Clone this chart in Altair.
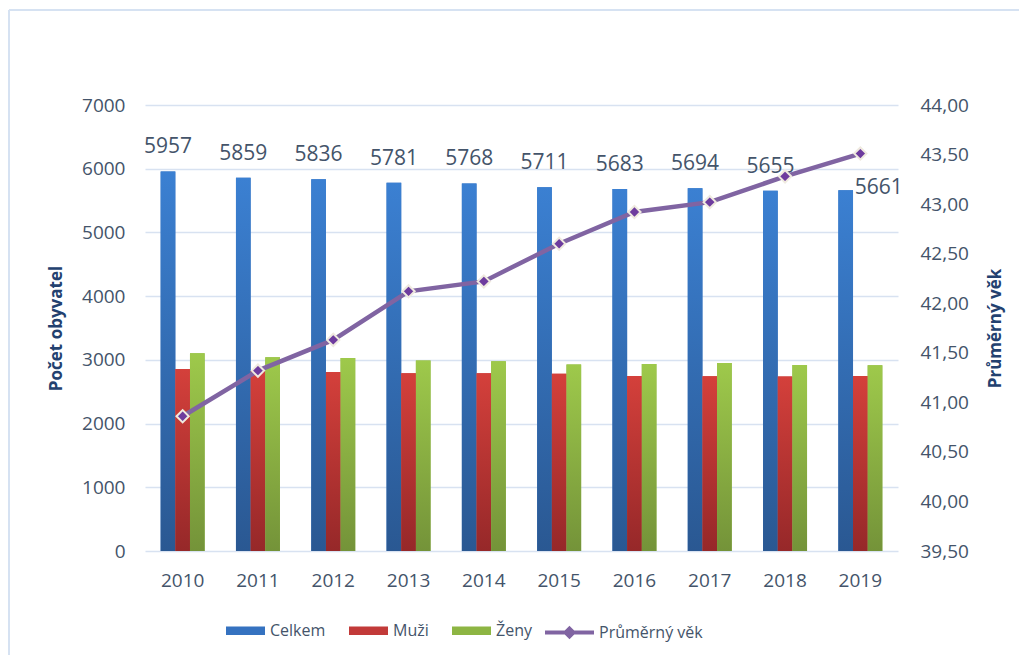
import altair as alt
import pandas as pd

roky = ["2010", "2011", "2012", "2013", "2014", "2015", "2016", "2017", "2018", "2019"]
celkem = [5957, 5859, 5836, 5781, 5768, 5711, 5683, 5694, 5655, 5661]
muzi = [2855, 2820, 2808, 2790, 2788, 2782, 2748, 2743, 2737, 2747]
zeny = [3102, 3039, 3028, 2991, 2980, 2929, 2935, 2951, 2918, 2914]
prumerny_vek = [40.86, 41.32, 41.63, 42.12, 42.22, 42.60, 42.92, 43.02, 43.28, 43.51]
serie = ["Celkem", "Muži", "Ženy"]
vek_serie = "Průměrný věk"

bars_df = pd.DataFrame({
    "rok": roky * 3,
    "serie": [s for s in serie for _ in roky],
    "pocet": celkem + muzi + zeny,
})
line_df = pd.DataFrame({"rok": roky, "vek": prumerny_vek, "serie": [vek_serie] * len(roky)})

TXT = "#44546A"
TITLE_C = "#23416F"
GRID = "#D8E2F1"
PURPLE = "#8064A2"

flat = ["#3572C0", "#C23A39", "#8DB543"]
grads = {
    "Celkem": ("#3B80D2", "#2A5892"),
    "Muži": ("#D4403B", "#962829"),
    "Ženy": ("#9EC94B", "#749339"),
}

x_enc = alt.X("rok:N", sort=roky,
              scale=alt.Scale(paddingInner=0.416, paddingOuter=0.208),
              axis=alt.Axis(title=None, labelAngle=0, ticks=False, domain=False,
                            labelPadding=20, labelFontSize=19, labelColor=TXT))
xo_enc = alt.XOffset("serie:N", scale=alt.Scale(domain=serie, paddingInner=0, paddingOuter=0))
y_bar = alt.Y("pocet:Q", scale=alt.Scale(domain=[0, 7000]),
              axis=alt.Axis(title="Počet obyvatel", values=list(range(0, 7001, 1000)), format="d",
                            grid=True, gridColor=GRID, gridWidth=1.6, ticks=False, domain=False,
                            labelPadding=20, labelFontSize=19, labelColor=TXT,
                            titleX=-89, titleY=223, titleAngle=270, titleAlign="center",
                            titleBaseline="middle", titleFontSize=17, titleFontWeight="bold",
                            titleColor=TITLE_C))

bars = alt.Chart(bars_df).mark_bar().encode(
    x=x_enc, xOffset=xo_enc, y=y_bar,
    color=alt.Color("serie:N", scale=alt.Scale(domain=serie, range=flat),
                    legend=alt.Legend(orient="none", legendX=81, legendY=506, direction="horizontal",
                                      title=None, symbolType="M-1,-0.22H1V0.22H-1Z", symbolSize=1521,
                                      symbolStrokeWidth=0, labelFontSize=16, labelColor=TXT,
                                      labelOffset=5, columnPadding=23, padding=0)),
)

overlays = []
for s in serie:
    top, bot = grads[s]
    overlays.append(
        alt.Chart(bars_df).transform_filter(alt.datum.serie == s).mark_bar(
            fill=alt.Gradient(gradient="linear",
                              stops=[alt.GradientStop(color=top, offset=0),
                                     alt.GradientStop(color=bot, offset=1)],
                              x1=0, x2=0, y1=0, y2=1)
        ).encode(x=x_enc, xOffset=xo_enc, y=y_bar)
    )

labels = alt.Chart(bars_df).transform_filter(
    (alt.datum.serie == "Celkem") & (alt.datum.rok != "2019")
).mark_text(dy=-24, fontSize=21, color=TXT, baseline="middle", align="center").encode(
    x=x_enc, xOffset=xo_enc, y=y_bar, text="pocet:Q")

label_last = alt.Chart(bars_df).transform_filter(
    (alt.datum.serie == "Celkem") & (alt.datum.rok == "2019")
).mark_text(dx=9, dy=-2, fontSize=21, color=TXT, baseline="middle", align="left").encode(
    x=x_enc, xOffset=xo_enc, y=y_bar, text="pocet:Q")

bar_group = alt.layer(bars, *overlays, labels, label_last)

y_vek = alt.Y("vek:Q", scale=alt.Scale(domain=[39.5, 44]),
              axis=alt.Axis(orient="right", title="Průměrný věk",
                            values=[39.5, 40, 40.5, 41, 41.5, 42, 42.5, 43, 43.5, 44],
                            labelExpr="replace(format(datum.value, '.2f'), '.', ',')",
                            grid=False, ticks=False, domain=False, labelPadding=22,
                            labelFontSize=19, labelColor=TXT,
                            titleX=97, titleY=223, titleAngle=270, titleAlign="center",
                            titleBaseline="middle", titleFontSize=17, titleFontWeight="bold",
                            titleColor=TITLE_C))

line = alt.Chart(line_df).mark_line(strokeWidth=4.5).encode(
    x=x_enc, y=y_vek,
    stroke=alt.Stroke("serie:N", scale=alt.Scale(domain=[vek_serie], range=[PURPLE]),
                      legend=alt.Legend(orient="none", legendX=398, legendY=501, title=None,
                                        symbolType="M-1,0H1M0,-0.16L0.16,0L0,0.16L-0.16,0Z",
                                        symbolSize=2401, symbolStrokeWidth=4,
                                        symbolFillColor="#6E3C9E", labelFontSize=16,
                                        labelColor=TXT, labelOffset=3, padding=0)),
)
points = alt.Chart(line_df).mark_point(shape="diamond", filled=True, size=150, fill="#6E3C9E",
                                       stroke="#EFEADF", strokeWidth=2, opacity=1).encode(
    x=x_enc, y=y_vek)

line_group = alt.layer(line, points)

border_top = alt.Chart(line_df).mark_rule(color="#D6E2F2", strokeWidth=2).encode(
    x=alt.value(-136), x2=alt.value(874), y=alt.value(-95))
border_left = alt.Chart(line_df).mark_rule(color="#D6E2F2", strokeWidth=2).encode(
    x=alt.value(-136), y=alt.value(-95), y2=alt.value(560))

chart = alt.layer(border_top, border_left, bar_group, line_group).resolve_scale(
    y="independent"
).properties(
    width=753, height=446,
    autosize=alt.AutoSizeParams(type="none"),
    padding={"left": 137, "top": 97, "right": 121, "bottom": 104},
).configure(font="Open Sans").configure_view(stroke=None)

chart.save("out.html", embed_options={"renderer": "svg", "actions": False})
